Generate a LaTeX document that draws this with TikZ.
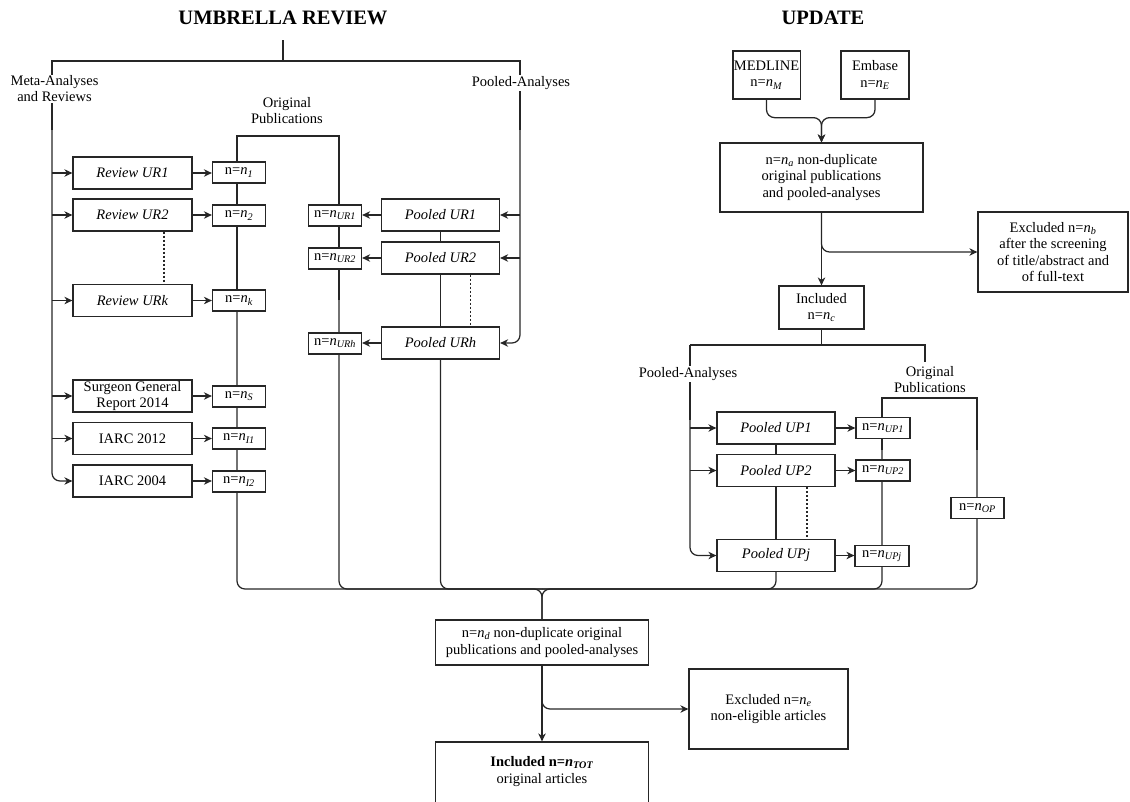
\documentclass[tikz,border=0pt]{standalone}
\usepackage{fontspec}
\setmainfont{Liberation Serif}
\usetikzlibrary{arrows.meta}
\pgfdeclarelayer{bg}
\pgfsetlayers{bg,main}
\newcommand{\nsub}[1]{n=\textit{n}\textsubscript{\textit{#1}}}
\begin{document}
\begin{tikzpicture}[x=1pt,y=-1pt,
  ln/.style={line width=1.25pt,draw=black!85},
  arr/.style={ln,-{Stealth[length=8pt,width=7.5pt,inset=2.5pt]}},
  dotl/.style={line width=1.1pt,draw=black!85,dash pattern=on 2pt off 2pt},
  box/.style={draw=black!85,line width=1.25pt,fill=white,inner sep=1pt,align=center,font=\fontsize{14.5}{16.5}\selectfont},
  rbox/.style={box,minimum width=119pt,minimum height=32pt},
  pbox/.style={box,minimum width=118pt,minimum height=32pt},
  nbox/.style={box,minimum width=53pt,minimum height=21pt},
  lbl/.style={fill=white,inner sep=1pt,align=center,font=\fontsize{14.5}{16}\selectfont},
  ttl/.style={font=\fontsize{20.5}{24}\selectfont\bfseries},
  rc/.style={rounded corners=8pt}]
\useasboundingbox (0,0) rectangle (1130,801);

% titles
\node[ttl] (t1) at (283,18) {UMBRELLA REVIEW};
\node[ttl] (t2) at (823,18) {UPDATE};

% ---------- umbrella review, left column
\node[rbox] (r1) at (132.5,173) {\textit{Review UR1}};
\node[rbox] (r2) at (132.5,215) {\textit{Review UR2}};
\node[rbox] (rk) at (132.5,300.5) {\textit{Review URk}};
\node[rbox] (sg) at (132.5,396) {Surgeon General\\Report 2014};
\node[rbox] (i12) at (132.5,438.5) {IARC 2012};
\node[rbox] (i04) at (132.5,481) {IARC 2004};

\node[nbox] (n1) at (239,172.5) {\nsub{1}};
\node[nbox] (n2) at (239,215.5) {\nsub{2}};
\node[nbox] (nk) at (239,300.5) {\nsub{k}};
\node[nbox] (ns) at (239,396.5) {\nsub{S}};
\node[nbox] (ni1) at (239,438.5) {\nsub{I1}};
\node[nbox] (ni2) at (239,481.5) {\nsub{I2}};

% pooled UR
\node[pbox] (p1) at (440.5,215) {\textit{Pooled UR1}};
\node[pbox] (p2) at (440.5,258) {\textit{Pooled UR2}};
\node[pbox] (ph) at (440.5,343) {\textit{Pooled URh}};
\node[nbox] (nu1) at (335,215.5) {\nsub{UR1}};
\node[nbox] (nu2) at (335,258.5) {\nsub{UR2}};
\node[nbox] (nuh) at (335,343.5) {\nsub{URh}};

% ---------- update
\node[box,minimum width=67pt,minimum height=48pt] (med) at (766.5,75) {MEDLINE\\\nsub{M}};
\node[box,minimum width=68pt,minimum height=48pt] (emb) at (875,75) {Embase\\\nsub{E}};
\node[box,minimum width=203pt,minimum height=69pt] (na) at (821.5,177.5) {\nsub{a} non-duplicate\\original publications\\and pooled-analyses};
\node[box,minimum width=150pt,minimum height=80pt] (exb) at (1053,252) {Excluded \nsub{b}\\after the screening\\of title/abstract and\\of full-text};
\node[box,minimum width=85pt,minimum height=43pt] (inc) at (821.5,307.5) {Included\\\nsub{c}};

\node[pbox] (up1) at (776,428) {\textit{Pooled UP1}};
\node[pbox] (up2) at (776,470.5) {\textit{Pooled UP2}};
\node[pbox] (upj) at (776,555.5) {\textit{Pooled UPj}};
\node[nbox,minimum width=54pt] (nup1) at (883,428) {\nsub{UP1}};
\node[nbox,minimum width=54pt] (nup2) at (883,470.5) {\nsub{UP2}};
\node[nbox,minimum width=54pt] (nupj) at (882,556) {\nsub{UPj}};
\node[nbox] (nop) at (977.5,508) {\nsub{OP}};

% ---------- bottom
\node[box,minimum width=213pt,minimum height=45pt] (nd) at (542,642.5) {\nsub{d} non-duplicate original\\publications and pooled-analyses};
\node[box,minimum width=159pt,minimum height=80pt] (exe) at (768.5,709) {Excluded \nsub{e}\\non-eligible articles};
\node[box,minimum width=213pt,minimum height=90pt] (tot) at (542,787) {};
\node[align=center,font=\fontsize{14.5}{16.5}\selectfont] (tottxt) at (542,771.5) {\textbf{Included \nsub{TOT}}\\original articles};

% labels
\node[lbl] (lmeta) at (54.5,89) {Meta-Analyses\\and Reviews};
\node[lbl] (lpool) at (521,83) {Pooled-Analyses};
\node[lbl] (lorig) at (287,110.5) {Original\\Publications};
\node[lbl] (lpoolu) at (688,374) {Pooled-Analyses};
\node[lbl] (loriu) at (930,379.5) {Original\\Publications};

% coordinates
\coordinate (ut) at (283,40);
\coordinate (uj) at (283,61);
\coordinate (lft) at (52,61);
\coordinate (rgt) at (520,61);
\coordinate (mj) at (542,589);
\coordinate (ij) at (821.5,345);
\coordinate (ul) at (690,345);
\coordinate (ur) at (925,345);

\begin{pgfonlayer}{bg}
% umbrella top tree
\draw[ln] (ut) -- (uj);
\draw[ln] (52,130) -- (lft) -- (rgt) -- (520,130);
\draw[arr,rc] (52,120) |- (i04.west);
\foreach \b in {r1,r2,rk,sg,i12} \draw[arr] (\b.west -| lft) -- (\b.west);
\foreach \b/\n in {r1/n1,r2/n2,rk/nk,sg/ns,i12/ni1,i04/ni2} \draw[arr] (\b.east) -- (\b.east -| \n.west);
\draw[dotl] ([xshift=31.5pt]r2.south) -- ([xshift=31.5pt]rk.north);

% original publications bracket
\draw[ln] (237,300) -- (237,136) -- (339,136) -- (339,300);

% pooled UR
\foreach \b in {p1,p2} \draw[arr] (\b.east -| rgt) -- (\b.east);
\draw[arr,rc] (520,120) |- (ph.east);
\foreach \b/\n in {p1/nu1,p2/nu2,ph/nuh} \draw[arr] (\b.west) -- (\b.west -| \n.east);
\draw[ln] (p1.south) -- (p2.north);
\draw[ln] (p2.south) -- (ph.north);
\draw[dotl] ([xshift=30pt]p2.south) -- ([xshift=30pt]ph.north);

% update top
\draw[arr,rc] (med.south) -- ++(0,18) -| (na.north);
\draw[arr,rc] (emb.south) -- ++(0,18) -| (na.north);
\draw[arr] (na.south) -- (inc.north);
\draw[arr,rc] (na.south) |- (exb.west);
\draw[ln] (inc.south) -- (ij);
\draw[ln] (ul) -- (ur) -- (925,362);
\draw[ln] (ul) -- (690,420);
\draw[arr,rc] (690,400) |- (upj.west);
\foreach \b in {up1,up2} \draw[arr] (\b.west -| ul) -- (\b.west);
\foreach \b/\n in {up1/nup1,up2/nup2,upj/nupj} \draw[arr] (\b.east) -- (\b.east -| \n.west);
\draw[ln] (up1.south) -- (up2.north);
\draw[ln] (up2.south) -- (upj.north);
\draw[dotl] ([xshift=31pt]up2.south) -- ([xshift=31pt]upj.north);
\draw[ln] (882,450) -- (882,398) -- (977,398) -- (977,450);

% merge
\draw[ln,rc] (237,290) |- (mj) -- (nd.north);
\draw[ln,rc] (339,290) |- (mj);
\draw[ln,rc] (ph.south) |- (mj);
\draw[ln,rc] (upj.south) |- (mj);
\draw[ln,rc] (882,440) |- (mj);
\draw[ln,rc] (977,440) |- (mj) -- (nd.north);

% bottom
\draw[arr] (nd.south) -- (tot.north);
\draw[arr,rc] (nd.south) |- (exe.west);
\end{pgfonlayer}
\end{tikzpicture}
\end{document}
